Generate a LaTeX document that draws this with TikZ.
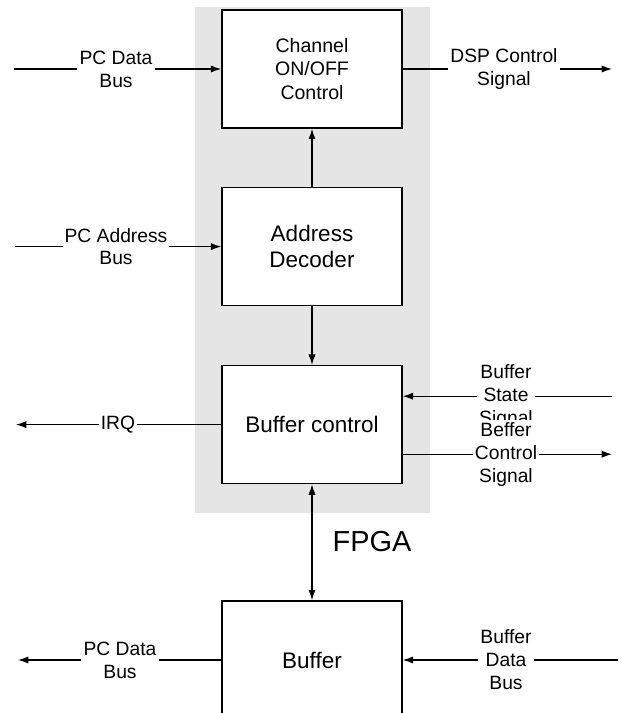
\documentclass[tikz,border=0pt]{standalone}
\usepackage{fontspec}
\setmainfont{Liberation Sans}
\usetikzlibrary{arrows.meta}
\begin{document}
\begin{tikzpicture}[
  block/.style={draw,line width=1.1pt,fill=white,minimum width=4.5cm,minimum height=2.95cm,align=center,font=\fontsize{16}{19}\selectfont},
  lbl/.style={fill=white,inner sep=1.5pt,align=center,font=\fontsize{13.7}{16.3}\selectfont},
  arr/.style={line width=0.8pt,-{Latex[length=2.6mm,width=1.8mm]}},
  darr/.style={line width=0.8pt,{Latex[length=2.6mm,width=1.8mm]}-{Latex[length=2.6mm,width=1.8mm]}}]
\useasboundingbox (0,0) rectangle (15.525,17.825);

% FPGA area
\fill[black!10] (4.875,5.0) rectangle (10.75,17.65);

\node[block,font=\fontsize{13.9}{17}\selectfont] (chan) at (7.8,16.1) {Channel\\ON/OFF\\Control};
\node[block] (addr) at (7.8,11.66) {Address\\Decoder};
\node[block] (bufctl) at (7.8,7.21) {Buffer control};
\node[block] (buf) at (7.8,1.325) {Buffer};

\coordinate (pcdin) at (0.35,16.1);
\coordinate (dspout) at (15.3,16.1);
\coordinate (pcain) at (0.375,11.66);
\coordinate (irqout) at (0.4,7.21);
\coordinate (bssin) at (15.3,7.92);
\coordinate (bcsout) at (15.3,6.47);
\coordinate (bdbin) at (15.45,1.325);
\coordinate (pcdout) at (0.45,1.325);

\draw[arr] (pcdin) -- (chan.west);
\draw[arr] (chan.east) -- (dspout);
\draw[arr] (pcain) -- (addr.west);
\draw[arr] (addr.north) -- (chan.south);
\draw[arr] (addr.south) -- (bufctl.north);
\draw[arr] (bufctl.west) -- (irqout);
\draw[arr] (bssin) -- (bufctl.east |- bssin);
\draw[arr] (bufctl.east |- bcsout) -- (bcsout);
\draw[darr] (bufctl.south) -- (buf.north);
\draw[arr] (bdbin) -- (buf.east);
\draw[arr] (buf.west) -- (pcdout);

\node[lbl] (pcdtxt) at (2.9,16.1) {PC Data\\Bus};
\node[lbl] (dsptxt) at (12.6,16.1) {DSP Control\\Signal};
\node[lbl] (pcatxt) at (2.9,11.66) {PC Address\\Bus};
\node[lbl] (irqtxt) at (2.95,7.21) {IRQ};
\node[lbl] (bsstxt) at (12.65,7.92) {Buffer\\State\\Signal};
\node[lbl] (bcstxt) at (12.65,6.47) {Beffer\\Control\\Signal};
\node[lbl] (bdbtxt) at (12.65,1.325) {Buffer\\Data\\Bus};
\node[lbl] (pcdbtxt) at (3.0,1.325) {PC Data\\Bus};
\node[font=\fontsize{20.6}{24}\selectfont] (fpga) at (9.3,4.275) {FPGA};
\end{tikzpicture}
\end{document}
